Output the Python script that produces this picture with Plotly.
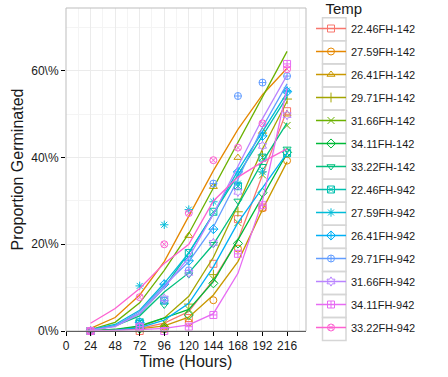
import plotly.graph_objects as go

# ---------------- data ----------------
temps = ["22.46FH-142", "27.59FH-142", "26.41FH-142", "29.71FH-142", "31.66FH-142",
         "34.11FH-142", "33.22FH-142", "22.46FH-942", "27.59FH-942", "26.41FH-942",
         "29.71FH-942", "31.66FH-942", "34.11FH-942", "33.22FH-942"]

obs_hours = [24, 72, 96, 120, 144, 168, 192, 216]
fit_hours = [24, 48, 72, 96, 120, 144, 168, 192, 216]

x_ticks = [0, 24, 48, 72, 96, 120, 144, 168, 192, 216]
y_ticks = [0, 0.2, 0.4, 0.6]
y_tick_labels = ["0\\%", "20\\%", "40\\%", "60\\%"]

# observed proportions (points)
obs_22_46_142 = [0.0, 0.0, 0.005, 0.03, 0.155, 0.258, 0.285, 0.507]
obs_27_59_142 = [0.0, 0.005, 0.01, 0.02, 0.071, 0.19, 0.283, 0.393]
obs_26_41_142 = [0.0, 0.005, 0.01, 0.22, 0.333, 0.40, 0.46, 0.50]
obs_29_71_142 = [0.0, 0.005, 0.01, 0.062, 0.13, 0.275, 0.406, 0.535]
obs_31_66_142 = [0.0, 0.005, 0.02, 0.05, 0.12, 0.25, 0.36, 0.474]
obs_34_11_142 = [0.0, 0.005, 0.005, 0.037, 0.11, 0.202, 0.319, 0.412]
obs_33_22_142 = [0.0, 0.02, 0.06, 0.13, 0.20, 0.30, 0.38, 0.42]
obs_22_46_942 = [0.0, 0.02, 0.07, 0.18, 0.275, 0.334, 0.40, 0.41]
obs_27_59_942 = [0.0, 0.104, 0.245, 0.28, 0.298, 0.34, 0.367, 0.555]
obs_26_41_942 = [0.0, 0.02, 0.108, 0.162, 0.235, 0.367, 0.45, 0.552]
obs_29_71_942 = [0.0, 0.01, 0.07, 0.14, 0.34, 0.542, 0.573, 0.588]
obs_31_66_942 = [0.0, 0.01, 0.075, 0.134, 0.203, 0.321, 0.427, 0.498]
obs_34_11_942 = [0.0, 0.01, 0.0, 0.01, 0.037, 0.178, 0.29, 0.616]
obs_33_22_942 = [0.0, 0.078, 0.20, 0.272, 0.394, 0.423, 0.479, 0.604]

# fitted proportions (lines)
fit_22_46_142 = [0.0, 0.002, 0.006, 0.018, 0.045, 0.118, 0.21, 0.36, 0.51]
fit_27_59_142 = [0.006, 0.031, 0.083, 0.16, 0.265, 0.37, 0.465, 0.545, 0.606]
fit_26_41_142 = [0.0, 0.002, 0.005, 0.012, 0.032, 0.083, 0.16, 0.28, 0.39]
fit_29_71_142 = [0.0, 0.003, 0.01, 0.03, 0.08, 0.17, 0.29, 0.42, 0.53]
fit_31_66_142 = [0.003, 0.02, 0.065, 0.14, 0.225, 0.33, 0.435, 0.54, 0.645]
fit_34_11_142 = [0.0, 0.004, 0.012, 0.03, 0.05, 0.114, 0.21, 0.31, 0.41]
fit_33_22_142 = [0.002, 0.012, 0.035, 0.09, 0.134, 0.20, 0.29, 0.39, 0.48]
fit_22_46_942 = [0.002, 0.012, 0.04, 0.10, 0.18, 0.27, 0.36, 0.45, 0.54]
fit_27_59_942 = [0.003, 0.015, 0.048, 0.11, 0.18, 0.27, 0.37, 0.46, 0.55]
fit_26_41_942 = [0.0, 0.002, 0.008, 0.025, 0.064, 0.148, 0.25, 0.33, 0.41]
fit_29_71_942 = [0.002, 0.012, 0.045, 0.105, 0.16, 0.24, 0.35, 0.47, 0.57]
fit_31_66_942 = [0.002, 0.01, 0.04, 0.10, 0.17, 0.27, 0.38, 0.49, 0.59]
fit_34_11_942 = [0.0, 0.001, 0.003, 0.006, 0.014, 0.04, 0.133, 0.30, 0.56]
fit_33_22_942 = [0.018, 0.052, 0.098, 0.156, 0.20, 0.30, 0.355, 0.39, 0.42]

observed = [obs_22_46_142, obs_27_59_142, obs_26_41_142, obs_29_71_142, obs_31_66_142,
            obs_34_11_142, obs_33_22_142, obs_22_46_942, obs_27_59_942, obs_26_41_942,
            obs_29_71_942, obs_31_66_942, obs_34_11_942, obs_33_22_942]
fitted = [fit_22_46_142, fit_27_59_142, fit_26_41_142, fit_29_71_142, fit_31_66_142,
          fit_34_11_142, fit_33_22_142, fit_22_46_942, fit_27_59_942, fit_26_41_942,
          fit_29_71_942, fit_31_66_942, fit_34_11_942, fit_33_22_942]

# ---------------- style ----------------
colors = ["#F8766D", "#E58700", "#C99800", "#A3A500", "#6BB100", "#00BA38", "#00BF7D",
          "#00C0AF", "#00BCD8", "#00B0F6", "#619CFF", "#B983FF", "#E76BF3", "#FD61D1"]
symbols = ["square-open", "circle-open", "triangle-up-open", "cross-thin-open",
           "x-thin-open", "diamond-open", "triangle-down-open", "square-x-open",
           "asterisk-open", "diamond-cross-open", "circle-cross-open", "hexagram-open",
           "square-cross-open", "circle-x-open"]

FONT = "Liberation Sans, Arial, sans-serif"

fig = go.Figure()
for i, name in enumerate(temps):
    g = "g%d" % i
    fig.add_trace(go.Scatter(x=fit_hours, y=fitted[i], mode="lines",
                             line=dict(color=colors[i], width=1.3),
                             legendgroup=g, showlegend=False, hoverinfo="skip"))
    fig.add_trace(go.Scatter(x=obs_hours, y=observed[i], mode="markers",
                             marker=dict(symbol=symbols[i], size=7, color=colors[i],
                                         line=dict(width=1, color=colors[i])),
                             cliponaxis=False, legendgroup=g, showlegend=False))
    # legend key: line + marker
    fig.add_trace(go.Scatter(x=[None], y=[None], mode="lines+markers", name=name,
                             line=dict(color=colors[i], width=1.3),
                             marker=dict(symbol=symbols[i], size=7, color=colors[i],
                                         line=dict(width=1, color=colors[i])),
                             legendgroup=g, showlegend=True))

# legend key boxes (decoration)
L, R, T, B = 66, 306, 8, 331
W, H = R - L, B - T
shapes = [dict(type="rect", xref="paper", yref="paper", x0=0, y0=0, x1=1, y1=1,
               line=dict(color="#BDBDBD", width=1), layer="above")]
for i in range(len(temps)):
    cy = 29.3 + 23.06 * i
    shapes.append(dict(type="rect", xref="paper", yref="paper",
                       x0=(322.5 - L) / W, x1=(346 - L) / W,
                       y0=(B - (cy + 11.5)) / H, y1=(B - (cy - 11.5)) / H,
                       line=dict(color="#D6D6D6", width=1.5), layer="above"))

fig.update_layout(
    width=448, height=377,
    margin=dict(l=L, r=448 - R, t=T, b=377 - B, autoexpand=False),
    paper_bgcolor="white", plot_bgcolor="white",
    font=dict(family=FONT, color="#1a1a1a"),
    showlegend=True,
    legend=dict(title=dict(text="&nbsp;&nbsp;&nbsp;Temp", font=dict(size=15, color="#1a1a1a")),
                font=dict(size=11, color="#1a1a1a"),
                x=(311 - L) / W, xanchor="left", y=1.0 + 13.5 / H, yanchor="top",
                tracegroupgap=4, traceorder="grouped", itemwidth=30,
                maxheight=377, bgcolor="rgba(0,0,0,0)"),
    shapes=shapes,
    xaxis=dict(range=[0, 234.5], tickvals=x_ticks, ticks="outside", ticklen=4,
               tickcolor="black", showline=True, linecolor="black", linewidth=1,
               showgrid=True, gridcolor="#EBEBEB", gridwidth=1, zeroline=False,
               automargin=False,
               minor=dict(dtick=12, tick0=0, showgrid=True, gridcolor="#F4F4F4"),
               tickfont=dict(size=12, color="#1a1a1a"),
               title=dict(text="Time (Hours)", font=dict(size=16, color="#1a1a1a"),
                          standoff=0)),
    yaxis=dict(range=[0, 0.745], tickvals=y_ticks, ticktext=y_tick_labels,
               ticks="outside", ticklen=4, tickcolor="black", showline=False,
               showgrid=True, gridcolor="#EBEBEB", gridwidth=1, zeroline=False,
               automargin=False,
               minor=dict(dtick=0.1, tick0=0, showgrid=True, gridcolor="#F4F4F4"),
               tickfont=dict(size=12, color="#1a1a1a"),
               title=dict(text="Proportion Germinated", font=dict(size=16, color="#1a1a1a"),
                          standoff=3)),
)

fig.write_html("out.html", config={"displayModeBar": False},
               post_script="document.body.style.margin='0px';")
